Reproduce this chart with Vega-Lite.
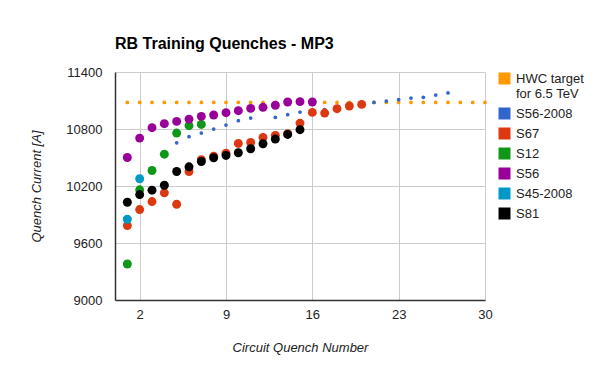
{
  "$schema": "https://vega.github.io/schema/vega-lite/v6.json",
  "autosize": "none",
  "width": 370,
  "height": 228,
  "padding": {"left": 115, "top": 72, "right": 115, "bottom": 71},
  "background": "white",
  "config": {
    "font": "Liberation Sans",
    "view": {"stroke": null},
    "axis": {"labelFont": "Liberation Sans", "labelFontSize": 13, "labelColor": "#222", "titleFont": "Liberation Sans", "titleFontSize": 13, "titleFontStyle": "italic", "titleFontWeight": "normal", "titleColor": "#222", "gridColor": "#cccccc", "gridOpacity": 1, "ticks": false, "domainColor": "#333333", "domainWidth": 1.5, "labelFlush": false}
  },
  "title": {"text": "RB Training Quenches - MP3", "anchor": "start", "frame": "group", "font": "Liberation Sans", "fontSize": 16, "fontWeight": "bold", "color": "#000", "offset": 14},
  "data": {"values": [
    {"series": "HWC target for 6.5 TeV", "n": 1, "current": 11080},
    {"series": "HWC target for 6.5 TeV", "n": 2, "current": 11080},
    {"series": "HWC target for 6.5 TeV", "n": 3, "current": 11080},
    {"series": "HWC target for 6.5 TeV", "n": 4, "current": 11080},
    {"series": "HWC target for 6.5 TeV", "n": 5, "current": 11080},
    {"series": "HWC target for 6.5 TeV", "n": 6, "current": 11080},
    {"series": "HWC target for 6.5 TeV", "n": 7, "current": 11080},
    {"series": "HWC target for 6.5 TeV", "n": 8, "current": 11080},
    {"series": "HWC target for 6.5 TeV", "n": 9, "current": 11080},
    {"series": "HWC target for 6.5 TeV", "n": 10, "current": 11080},
    {"series": "HWC target for 6.5 TeV", "n": 11, "current": 11080},
    {"series": "HWC target for 6.5 TeV", "n": 12, "current": 11080},
    {"series": "HWC target for 6.5 TeV", "n": 13, "current": 11080},
    {"series": "HWC target for 6.5 TeV", "n": 14, "current": 11080},
    {"series": "HWC target for 6.5 TeV", "n": 15, "current": 11080},
    {"series": "HWC target for 6.5 TeV", "n": 16, "current": 11080},
    {"series": "HWC target for 6.5 TeV", "n": 17, "current": 11080},
    {"series": "HWC target for 6.5 TeV", "n": 18, "current": 11080},
    {"series": "HWC target for 6.5 TeV", "n": 19, "current": 11080},
    {"series": "HWC target for 6.5 TeV", "n": 20, "current": 11080},
    {"series": "HWC target for 6.5 TeV", "n": 21, "current": 11080},
    {"series": "HWC target for 6.5 TeV", "n": 22, "current": 11080},
    {"series": "HWC target for 6.5 TeV", "n": 23, "current": 11080},
    {"series": "HWC target for 6.5 TeV", "n": 24, "current": 11080},
    {"series": "HWC target for 6.5 TeV", "n": 25, "current": 11080},
    {"series": "HWC target for 6.5 TeV", "n": 26, "current": 11080},
    {"series": "HWC target for 6.5 TeV", "n": 27, "current": 11080},
    {"series": "HWC target for 6.5 TeV", "n": 28, "current": 11080},
    {"series": "HWC target for 6.5 TeV", "n": 29, "current": 11080},
    {"series": "HWC target for 6.5 TeV", "n": 30, "current": 11080},
    {"series": "S56-2008", "n": 5, "current": 10655},
    {"series": "S56-2008", "n": 6, "current": 10719},
    {"series": "S56-2008", "n": 7, "current": 10757},
    {"series": "S56-2008", "n": 8, "current": 10799},
    {"series": "S56-2008", "n": 9, "current": 10841},
    {"series": "S56-2008", "n": 10, "current": 10888},
    {"series": "S56-2008", "n": 11, "current": 10915},
    {"series": "S56-2008", "n": 13, "current": 10922},
    {"series": "S56-2008", "n": 14, "current": 10951},
    {"series": "S56-2008", "n": 15, "current": 10978},
    {"series": "S56-2008", "n": 17, "current": 11004},
    {"series": "S56-2008", "n": 21, "current": 11080},
    {"series": "S56-2008", "n": 22, "current": 11094},
    {"series": "S56-2008", "n": 23, "current": 11109},
    {"series": "S56-2008", "n": 24, "current": 11126},
    {"series": "S56-2008", "n": 25, "current": 11133},
    {"series": "S56-2008", "n": 26, "current": 11157},
    {"series": "S56-2008", "n": 27, "current": 11179},
    {"series": "S67", "n": 1, "current": 9783},
    {"series": "S67", "n": 2, "current": 9952},
    {"series": "S67", "n": 3, "current": 10036},
    {"series": "S67", "n": 4, "current": 10128},
    {"series": "S67", "n": 5, "current": 10008},
    {"series": "S67", "n": 6, "current": 10353},
    {"series": "S67", "n": 7, "current": 10476},
    {"series": "S67", "n": 8, "current": 10514},
    {"series": "S67", "n": 9, "current": 10546},
    {"series": "S67", "n": 10, "current": 10648},
    {"series": "S67", "n": 11, "current": 10659},
    {"series": "S67", "n": 12, "current": 10711},
    {"series": "S67", "n": 13, "current": 10733},
    {"series": "S67", "n": 14, "current": 10750},
    {"series": "S67", "n": 15, "current": 10862},
    {"series": "S67", "n": 16, "current": 10975},
    {"series": "S67", "n": 17, "current": 10968},
    {"series": "S67", "n": 18, "current": 11014},
    {"series": "S67", "n": 19, "current": 11042},
    {"series": "S67", "n": 20, "current": 11059},
    {"series": "S12", "n": 1, "current": 9379},
    {"series": "S12", "n": 2, "current": 10160},
    {"series": "S12", "n": 3, "current": 10363},
    {"series": "S12", "n": 4, "current": 10535},
    {"series": "S12", "n": 5, "current": 10757},
    {"series": "S12", "n": 6, "current": 10835},
    {"series": "S12", "n": 7, "current": 10848},
    {"series": "S56", "n": 1, "current": 10500},
    {"series": "S56", "n": 2, "current": 10704},
    {"series": "S56", "n": 3, "current": 10814},
    {"series": "S56", "n": 4, "current": 10856},
    {"series": "S56", "n": 5, "current": 10880},
    {"series": "S56", "n": 6, "current": 10904},
    {"series": "S56", "n": 7, "current": 10933},
    {"series": "S56", "n": 8, "current": 10947},
    {"series": "S56", "n": 9, "current": 10972},
    {"series": "S56", "n": 10, "current": 10993},
    {"series": "S56", "n": 11, "current": 11017},
    {"series": "S56", "n": 12, "current": 11028},
    {"series": "S56", "n": 13, "current": 11050},
    {"series": "S56", "n": 14, "current": 11084},
    {"series": "S56", "n": 15, "current": 11088},
    {"series": "S56", "n": 16, "current": 11084},
    {"series": "S45-2008", "n": 1, "current": 9850},
    {"series": "S45-2008", "n": 2, "current": 10276},
    {"series": "S81", "n": 1, "current": 10029},
    {"series": "S81", "n": 2, "current": 10110},
    {"series": "S81", "n": 3, "current": 10156},
    {"series": "S81", "n": 4, "current": 10208},
    {"series": "S81", "n": 5, "current": 10353},
    {"series": "S81", "n": 6, "current": 10402},
    {"series": "S81", "n": 7, "current": 10458},
    {"series": "S81", "n": 8, "current": 10497},
    {"series": "S81", "n": 9, "current": 10522},
    {"series": "S81", "n": 10, "current": 10550},
    {"series": "S81", "n": 11, "current": 10592},
    {"series": "S81", "n": 12, "current": 10645},
    {"series": "S81", "n": 13, "current": 10694},
    {"series": "S81", "n": 14, "current": 10743},
    {"series": "S81", "n": 15, "current": 10793}
  ]},
  "encoding": {
    "x": {"field": "n", "type": "quantitative", "scale": {"domain": [0, 30], "nice": false, "zero": false},
      "axis": {"title": "Circuit Quench Number", "values": [2, 9, 16, 23, 30], "format": "d", "labelPadding": 8, "titlePadding": 20}},
    "y": {"field": "current", "type": "quantitative", "scale": {"domain": [9000, 11400], "nice": false, "zero": false},
      "axis": {"title": "Quench Current [A]", "values": [9000, 9600, 10200, 10800, 11400], "format": "d", "labelPadding": 13, "titlePadding": 22}},
    "color": {"field": "series", "type": "nominal",
      "scale": {"domain": ["HWC target for 6.5 TeV", "S56-2008", "S67", "S12", "S56", "S45-2008", "S81"],
        "range": ["#FF9900", "#3366CC", "#DC3912", "#109618", "#990099", "#0099C6", "#000000"]},
      "legend": {"title": null, "orient": "right", "offset": 13, "symbolType": "square", "symbolSize": 144, "symbolStrokeWidth": 0, "symbolOpacity": 1, "labelFont": "Liberation Sans", "labelFontSize": 13, "labelColor": "#222", "labelOffset": 5, "rowPadding": 6,
        "labelExpr": "datum.label == 'HWC target for 6.5 TeV' ? ['HWC target', 'for 6.5 TeV'] : datum.label"}}
  },
  "layer": [
    {"transform": [{"filter": "datum.series == 'HWC target for 6.5 TeV' || datum.series == 'S56-2008'"}],
     "mark": {"type": "point", "filled": true, "opacity": 1, "size": 14}},
    {"transform": [{"filter": "datum.series != 'HWC target for 6.5 TeV' && datum.series != 'S56-2008'"}],
     "mark": {"type": "point", "filled": true, "opacity": 1, "size": 80}}
  ]
}
